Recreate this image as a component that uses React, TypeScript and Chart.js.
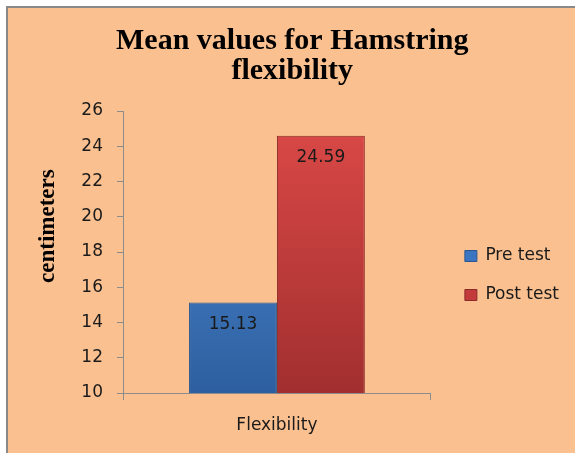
import React, { useEffect, useRef } from "react";
import { Chart, registerables } from "chart.js";

Chart.register(...registerables);

const categories = ["Flexibility"];
const seriesNames = ["Pre test", "Post test"];
const preValues = [15.13];
const postValues = [24.59];
const yMin = 10;
const yMax = 26;
const yStep = 2;
const titleLines = ["Mean values for Hamstring", "flexibility"];
const yTitle = "centimeters";

const SANS = "'DejaVu Sans', sans-serif";
const SERIF = "'Liberation Serif', 'Times New Roman', serif";

function makeGrad(ctx: any, area: any, top: string, bottom: string) {
  if (!area) return top;
  const g = ctx.createLinearGradient(0, area.top, 0, area.bottom);
  g.addColorStop(0, top);
  g.addColorStop(1, bottom);
  return g;
}

const valueLabels = {
  id: "valueLabels",
  afterDatasetsDraw(chart: any) {
    const { ctx } = chart;
    ctx.save();
    ctx.font = `17px ${SANS}`;
    ctx.fillStyle = "#1a1a1a";
    ctx.textAlign = "center";
    ctx.textBaseline = "middle";
    chart.data.datasets.forEach((ds: any, di: number) => {
      const meta = chart.getDatasetMeta(di);
      meta.data.forEach((bar: any, i: number) => {
        ctx.fillText(ds.data[i].toFixed(2), bar.x, bar.y + 22);
      });
    });
    ctx.restore();
  },
};

export default function App() {
  const ref = useRef<HTMLCanvasElement | null>(null);
  useEffect(() => {
    if (!ref.current) return;
    const chart = new Chart(ref.current, {
      type: "bar",
      data: {
        labels: categories,
        datasets: [
          {
            label: seriesNames[0],
            data: preValues,
            backgroundColor: (c: any) => makeGrad(c.chart.ctx, c.chart.chartArea, "#5290dc", "#2d5f9f"),
            borderColor: "#2a5590",
            borderWidth: 1,
            categoryPercentage: 0.571,
            barPercentage: 1,
          },
          {
            label: seriesNames[1],
            data: postValues,
            backgroundColor: (c: any) => makeGrad(c.chart.ctx, c.chart.chartArea, "#dc4a48", "#a22f2f"),
            borderColor: "#8a2a2a",
            borderWidth: 1,
            categoryPercentage: 0.571,
            barPercentage: 1,
          },
        ],
      },
      options: {
        animation: false,
        responsive: false,
        maintainAspectRatio: false,
        layout: { padding: { top: 0, left: 0, right: 6, bottom: 15 } },
        plugins: {
          title: {
            display: true,
            text: titleLines.map((t) => "\u00a0" + t),
            color: "#000",
            font: { family: SERIF, size: 30, weight: "bold", lineHeight: 1.0 },
            padding: { top: 18, bottom: 25 },
          },
          legend: {
            position: "right",
            align: "center",
            maxWidth: 200,
            title: {
              display: true,
              text: " ",
              color: "rgba(0,0,0,0)",
              font: { size: 1, lineHeight: 1 },
              padding: { top: 104, bottom: 0 },
            },
            labels: {
              boxWidth: 12,
              boxHeight: 11,
              padding: 22,
              color: "#1a1a1a",
              font: { family: SANS, size: 17 },
              generateLabels: (ch: any) =>
                ch.data.datasets.map((ds: any, i: number) => ({
                  text: ds.label,
                  fillStyle: i === 0 ? "#3b74c0" : "#c23a3a",
                  strokeStyle: i === 0 ? "#2a5590" : "#8a2a2a",
                  lineWidth: 1,
                  datasetIndex: i,
                  hidden: false,
                  fontColor: "#1a1a1a",
                })),
            },
          },
          tooltip: { enabled: false },
        },
        scales: {
          x: {
            grid: {
              display: true,
              drawOnChartArea: false,
              drawTicks: true,
              tickLength: 7,
              color: "#8c8c8c",
              offset: true,
            },
            border: { display: true, color: "#8c8c8c", width: 1 },
            ticks: { color: "#1a1a1a", font: { family: SANS, size: 17 }, padding: 15 },
            afterFit: (s: any) => {
              s.height = 45;
            },
          },
          y: {
            min: yMin,
            max: yMax,
            ticks: { stepSize: yStep, color: "#1a1a1a", font: { family: SANS, size: 17 }, padding: 14 },
            grid: {
              display: true,
              drawOnChartArea: false,
              drawTicks: true,
              tickLength: 6,
              color: "#8c8c8c",
            },
            border: { display: true, color: "#8c8c8c", width: 1 },
            title: {
              display: true,
              text: "\u00a0\u00a0\u00a0\u00a0\u00a0\u00a0\u00a0\u00a0\u00a0" + yTitle,
              color: "#000",
              font: { family: SERIF, size: 23, weight: "bold" },
              padding: { top: 26, bottom: 0 },
            },
            afterFit: (s: any) => {
              s.width = 115;
            },
          },
          gap: {
            type: "linear",
            position: "right",
            display: true,
            grid: { display: false },
            border: { display: false },
            ticks: { display: false },
            afterFit: (s: any) => {
              s.width = 12;
            },
          },
        },
      },
      plugins: [valueLabels],
    } as any);
    return () => chart.destroy();
  }, []);

  return (
    <div
      style={{
        position: "absolute",
        left: 6,
        top: 6,
        width: 567,
        height: 445,
        borderLeft: "2px solid #898989",
        borderTop: "2px solid #898989",
        background: "#fac090",
      }}
    >
      <canvas ref={ref} width={567} height={445} style={{ display: "block" }} />
    </div>
  );
}
